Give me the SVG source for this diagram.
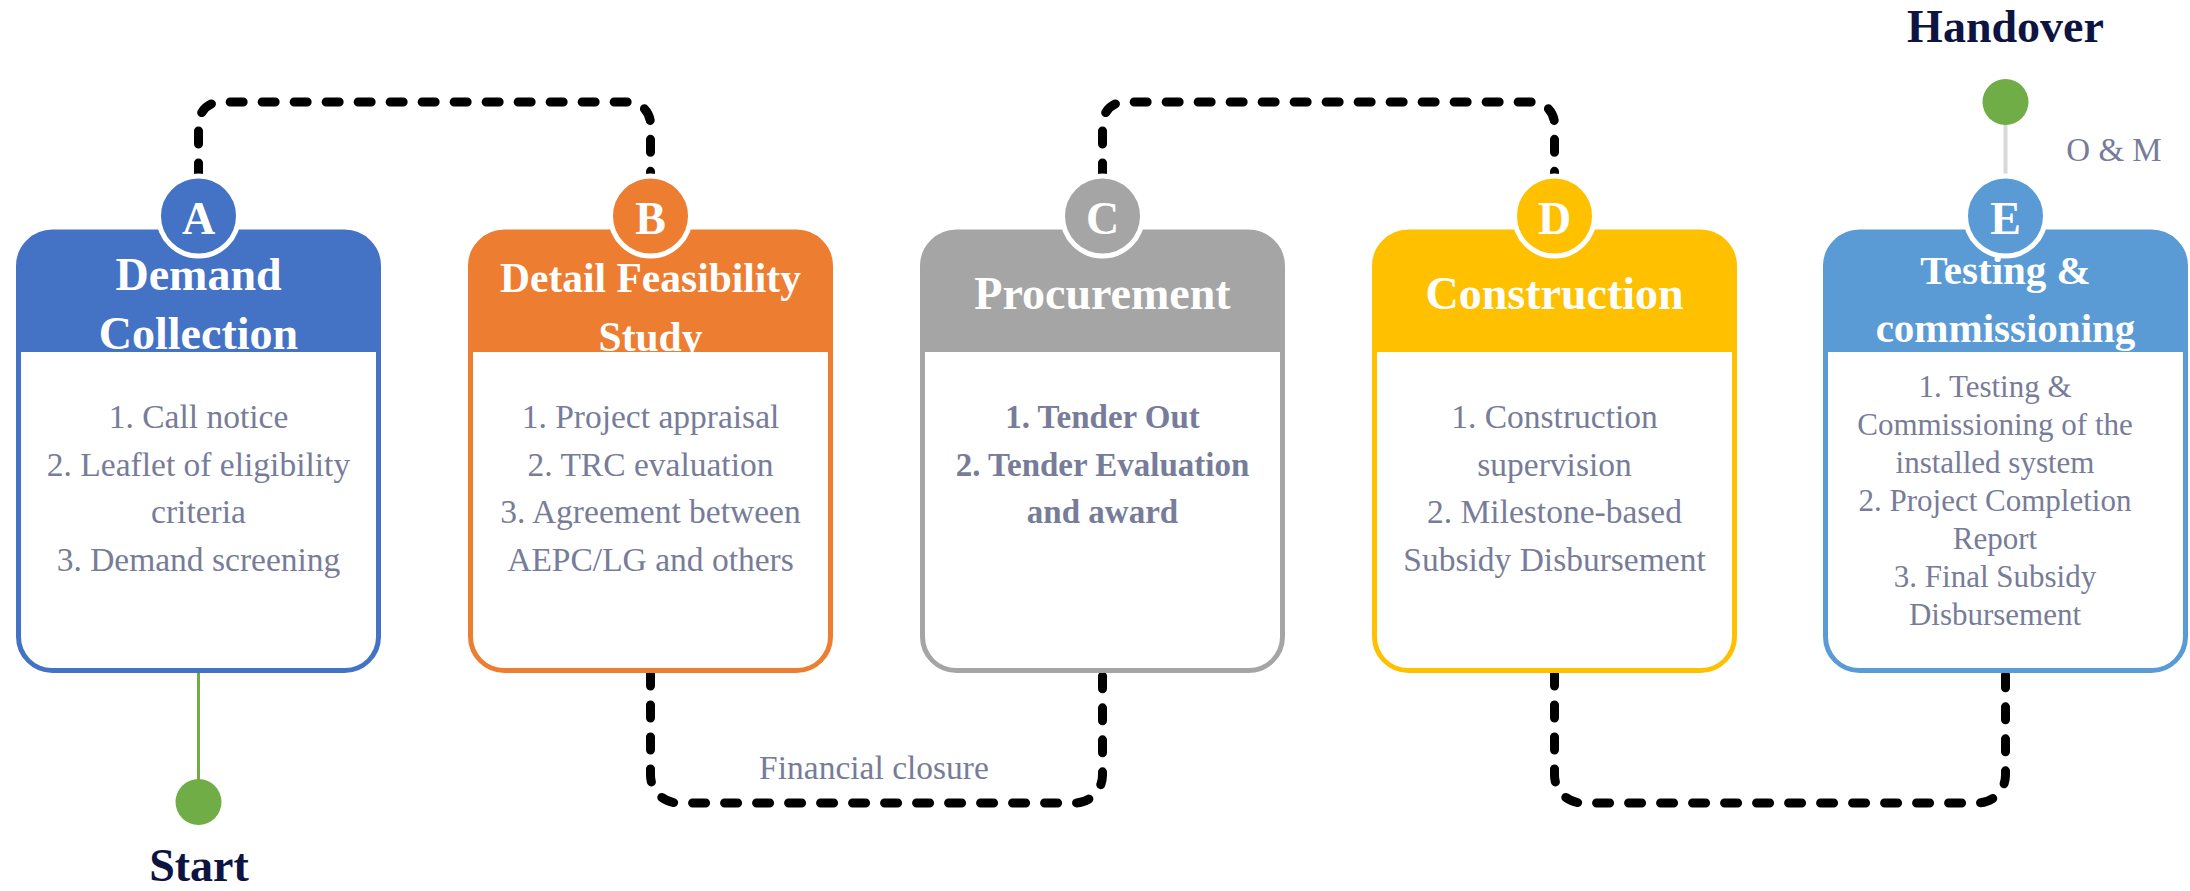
<svg xmlns="http://www.w3.org/2000/svg" width="2190" height="891" viewBox="0 0 2190 891">
<style>
.hd{font-family:"Liberation Serif","Times New Roman",serif;font-weight:bold;fill:#fff;text-anchor:middle}
.bd{font-family:"Liberation Serif","Times New Roman",serif;font-size:33.5px;fill:#777c99;text-anchor:middle}
.lt{font-family:"Liberation Serif","Times New Roman",serif;font-weight:bold;font-size:46px;fill:#fff;text-anchor:middle}
.nv{font-family:"Liberation Serif","Times New Roman",serif;font-weight:bold;font-size:46px;fill:#0e1442;text-anchor:middle}
.dash{fill:none;stroke:#000;stroke-width:9;stroke-linecap:round;stroke-dasharray:13 19}
.body{fill:#fff}
.badge{stroke:#fff;stroke-width:5}
</style>
<rect width="2190" height="891" fill="#fff"/>
<g id="connectors">
<path class="dash" d="M198.5,176 V124 A22,22 0 0 1 220.5,102 H628.5 A22,22 0 0 1 650.5,124 V176"/>
<path class="dash" d="M1102.5,176 V124 A22,22 0 0 1 1124.5,102 H1532.5 A22,22 0 0 1 1554.5,124 V176"/>
<path class="dash" d="M650.5,673 V775 A28,28 0 0 0 678.5,803 H1074.5 A28,28 0 0 0 1102.5,775 V673"/>
<path class="dash" d="M1554.5,673 V775 A28,28 0 0 0 1582.5,803 H1977.5 A28,28 0 0 0 2005.5,775 V673"/>
<line x1="198.5" y1="673" x2="198.5" y2="790" stroke="#70ad47" stroke-width="3"/>
<line x1="2005.5" y1="120" x2="2005.5" y2="180" stroke="#d9d9d9" stroke-width="4"/>
<text x="874" y="779" class="bd">Financial closure</text>
<text x="2114" y="161" class="bd" style="font-size:33px">O &amp; M</text>
</g>
<g id="start">
<circle cx="198.5" cy="802" r="23" fill="#70ad47"/>
<text x="199" y="881" class="nv">Start</text>
</g>
<g id="handover">
<circle cx="2005.5" cy="102" r="23" fill="#70ad47"/>
<text x="2005.5" y="42" class="nv">Handover</text>
</g>
<g id="nodeA">
<rect x="18.5" y="232" width="360" height="438.5" rx="34" fill="#4472c4" stroke="#4472c4" stroke-width="5"/>
<text class="hd" style="font-size:46px" x="198.5" y="289.5">Demand</text>
<text class="hd" style="font-size:46px" x="198.5" y="349">Collection</text>
<path class="body" d="M21,352 H376 V637 A31,31 0 0 1 345,668 H52 A31,31 0 0 1 21,637 Z"/>
<circle class="badge" cx="198.5" cy="216" r="40" fill="#4472c4"/>
<text class="lt" x="198.5" y="234">A</text>
<text class="bd" x="198.5" y="428">1. Call notice</text>
<text class="bd" x="198.5" y="475.5">2. Leaflet of eligibility</text>
<text class="bd" x="198.5" y="523">criteria</text>
<text class="bd" x="198.5" y="570.5">3. Demand screening</text>
</g>
<g id="nodeB">
<rect x="470.5" y="232" width="360" height="438.5" rx="34" fill="#ed7d31" stroke="#ed7d31" stroke-width="5"/>
<text class="hd" style="font-size:41.5px" x="650.5" y="291.5">Detail Feasibility</text>
<text class="hd" style="font-size:41.5px" x="650.5" y="351">Study</text>
<path class="body" d="M473,352 H828 V637 A31,31 0 0 1 797,668 H504 A31,31 0 0 1 473,637 Z"/>
<circle class="badge" cx="650.5" cy="216" r="40" fill="#ed7d31"/>
<text class="lt" x="650.5" y="234">B</text>
<text class="bd" x="650.5" y="428">1. Project appraisal</text>
<text class="bd" x="650.5" y="475.5">2. TRC evaluation</text>
<text class="bd" x="650.5" y="523">3. Agreement between</text>
<text class="bd" x="650.5" y="570.5">AEPC/LG and others</text>
</g>
<g id="nodeC">
<rect x="922.5" y="232" width="360" height="438.5" rx="34" fill="#a5a5a5" stroke="#a5a5a5" stroke-width="5"/>
<text class="hd" style="font-size:46px" x="1102.5" y="309">Procurement</text>
<path class="body" d="M925,352 H1280 V637 A31,31 0 0 1 1249,668 H956 A31,31 0 0 1 925,637 Z"/>
<circle class="badge" cx="1102.5" cy="216" r="40" fill="#a5a5a5"/>
<text class="lt" x="1102.5" y="234">C</text>
<text class="bd" style="font-weight:bold;font-size:33px" x="1102.5" y="428">1. Tender Out</text>
<text class="bd" style="font-weight:bold;font-size:33px" x="1102.5" y="475.5">2. Tender Evaluation</text>
<text class="bd" style="font-weight:bold;font-size:33px" x="1102.5" y="523">and award</text>
</g>
<g id="nodeD">
<rect x="1374.5" y="232" width="360" height="438.5" rx="34" fill="#ffc000" stroke="#ffc000" stroke-width="5"/>
<text class="hd" style="font-size:46px" x="1554.5" y="309">Construction</text>
<path class="body" d="M1377,352 H1732 V637 A31,31 0 0 1 1701,668 H1408 A31,31 0 0 1 1377,637 Z"/>
<circle class="badge" cx="1554.5" cy="216" r="40" fill="#ffc000"/>
<text class="lt" x="1554.5" y="234">D</text>
<text class="bd" x="1554.5" y="428">1. Construction</text>
<text class="bd" x="1554.5" y="475.5">supervision</text>
<text class="bd" x="1554.5" y="523">2. Milestone-based</text>
<text class="bd" x="1554.5" y="570.5">Subsidy Disbursement</text>
</g>
<g id="nodeE">
<rect x="1825.5" y="232" width="360" height="438.5" rx="34" fill="#5b9bd5" stroke="#5b9bd5" stroke-width="5"/>
<text class="hd" style="font-size:41px" x="2005.5" y="283.5">Testing &amp;</text>
<text class="hd" style="font-size:41px" x="2005.5" y="341.5">commissioning</text>
<path class="body" d="M1828,352 H2183 V637 A31,31 0 0 1 2152,668 H1859 A31,31 0 0 1 1828,637 Z"/>
<circle class="badge" cx="2005.5" cy="216" r="40" fill="#5b9bd5"/>
<text class="lt" x="2005.5" y="234">E</text>
<g class="bd" style="font-size:31px">
<text x="1995" y="397">1. Testing &amp;</text>
<text x="1995" y="435">Commissioning of the</text>
<text x="1995" y="473">installed system</text>
<text x="1995" y="511">2. Project Completion</text>
<text x="1995" y="549">Report</text>
<text x="1995" y="587">3. Final Subsidy</text>
<text x="1995" y="625">Disbursement</text>
</g>
</g>
</svg>
